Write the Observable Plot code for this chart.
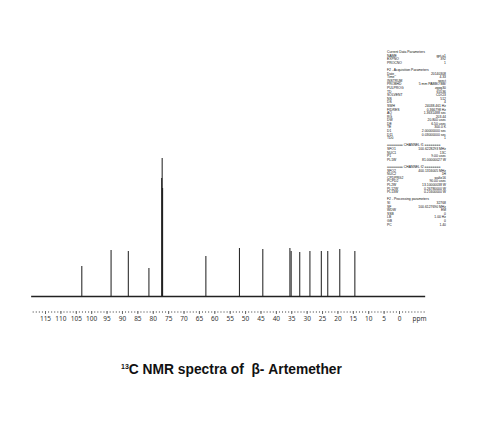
<!DOCTYPE html>
<html>
<head>
<meta charset="utf-8">
<script src="https://cdn.jsdelivr.net/npm/d3@7"></script>
<script src="https://cdn.jsdelivr.net/npm/@observablehq/plot@0.6"></script>
<style>
  html, body { margin: 0; padding: 0; background: #fff; width: 495px; height: 430px; overflow: hidden; }
  #wrap { position: relative; width: 495px; height: 430px; }
  #chart { position: absolute; left: 0; top: 0; }
  #params { position: absolute; left: 387px; top: 51px; width: 59px; font-family: "Liberation Sans", Arial, sans-serif; font-size: 3.4px; line-height: 3.6px; color: #111; }
  #params .row { display: flex; justify-content: space-between; white-space: nowrap; height: 3.6px; }
  #title { position: absolute; left: 121px; top: 362px; font-family: "Liberation Sans", Arial, sans-serif; font-weight: bold; font-size: 13.8px; color: #111; white-space: nowrap; }
  #title sup { font-size: 7px; vertical-align: 5px; }
</style>
</head>
<body>
<div id="wrap">
  <div id="chart"></div>
  <div id="params"></div>
  <div id="title"><sup>13</sup>C NMR spectra of&nbsp; β- Artemether</div>
</div>
<script>
// Peak positions (ppm) and relative intensities
const peakShifts  = [103.2, 93.7, 88.1, 81.4, 77.25, 77.1, 76.95, 62.9, 52.0, 44.4, 35.6, 35.2, 32.4, 29.1, 25.4, 23.3, 19.4, 14.5];
const peakHeights = [30,    46,   45,   28,   118,   138,  108,   40,   48,   47,   48,   45,   44,   45,   45,   45,   47,   45];

// Spectral window (ppm) for baseline and axis
const windowStart = 119.5;
const windowEnd = -8.5;

// Axis tick labels
const majorTicks = [115, 110, 105, 100, 95, 90, 85, 80, 75, 70, 65, 60, 55, 50, 45, 40, 35, 30, 25, 20, 15, 10, 5, 0];
const minorTicks = d3.range(-8, 120, 1);
const axisUnit = ["ppm"];

// Acquisition parameter listing
const paramLabels = [
  "Current Data Parameters", "NAME", "EXPNO", "PROCNO", "",
  "F2 - Acquisition Parameters", "Date_", "Time", "INSTRUM", "PROBHD", "PULPROG", "TD", "SOLVENT", "NS", "DS",
  "SWH", "FIDRES", "AQ", "RG", "DW", "DE", "TE", "D1", "D11", "TD0", "",
  "======== CHANNEL f1 ========", "SFO1", "NUC1", "P1", "PL1W", "",
  "======== CHANNEL f2 ========", "SFO2", "NUC2", "CPDPRG2", "PCPD2", "PL2W", "PL12W", "PL13W", "",
  "F2 - Processing parameters", "SI", "SF", "WDW", "SSB", "LB", "GB", "PC"
];
const paramValues = [
  "", "gpt-a1", "392", "1", "",
  "", "20140308", "4.33", "spect", "5 mm PABBO BB/", "zgpg30", "65536", "CDCl3", "512", "4",
  "24038.461 Hz", "0.366798 Hz", "1.3631488 sec", "203.44", "20.800 usec", "6.50 usec", "300.0 K", "2.00000000 sec", "0.03000000 sec", "1", "",
  "", "100.6228293 MHz", "13C", "9.00 usec", "81.00000027 W", "",
  "", "400.1316005 MHz", "1H", "waltz16", "90.00 usec", "13.10000038 W", "0.26780000 W", "0.21600000 W", "",
  "", "32768", "100.6127690 MHz", "EM", "0", "1.00 Hz", "0", "1.40"
];

const peaks = peakShifts.map((ppm, i) => ({ppm, h: peakHeights[i]}));

const chart = Plot.plot({
  width: 495,
  height: 330,
  marginLeft: 30,
  marginRight: 70,
  marginTop: 0,
  marginBottom: 19,
  x: {domain: [115, 0], range: [45, 399]},
  y: {domain: [0, 140], range: [296, 156], axis: null},
  style: {background: "transparent"},
  marks: [
    Plot.ruleY([0], {x1: windowStart, x2: windowEnd, stroke: "#222", strokeWidth: 1.6}),
    Plot.ruleX(peaks, {x: "ppm", y1: 0, y2: "h", stroke: "#1a1a1a", strokeWidth: 1}),
    Plot.axisX({ticks: minorTicks, tickSize: 2, tickFormat: () => "", stroke: "#999", label: null}),
    Plot.axisX({ticks: majorTicks, tickSize: 3, tickPadding: 1.5, fontSize: 6.5, fill: "#333", stroke: "#666", label: null, tickFormat: d => String(d)}),
    Plot.text(axisUnit, {frameAnchor: "bottom-right", dx: -6, dy: 7.5, fontSize: 6.5, fill: "#333", textAnchor: "middle", lineAnchor: "middle"})
  ]
});
document.getElementById("chart").appendChild(chart);

const params = document.getElementById("params");
paramLabels.forEach((lab, i) => {
  const row = document.createElement("div");
  row.className = "row";
  const a = document.createElement("span");
  a.textContent = lab;
  const b = document.createElement("span");
  b.textContent = paramValues[i];
  row.appendChild(a);
  row.appendChild(b);
  params.appendChild(row);
});
</script>
</body>
</html>
